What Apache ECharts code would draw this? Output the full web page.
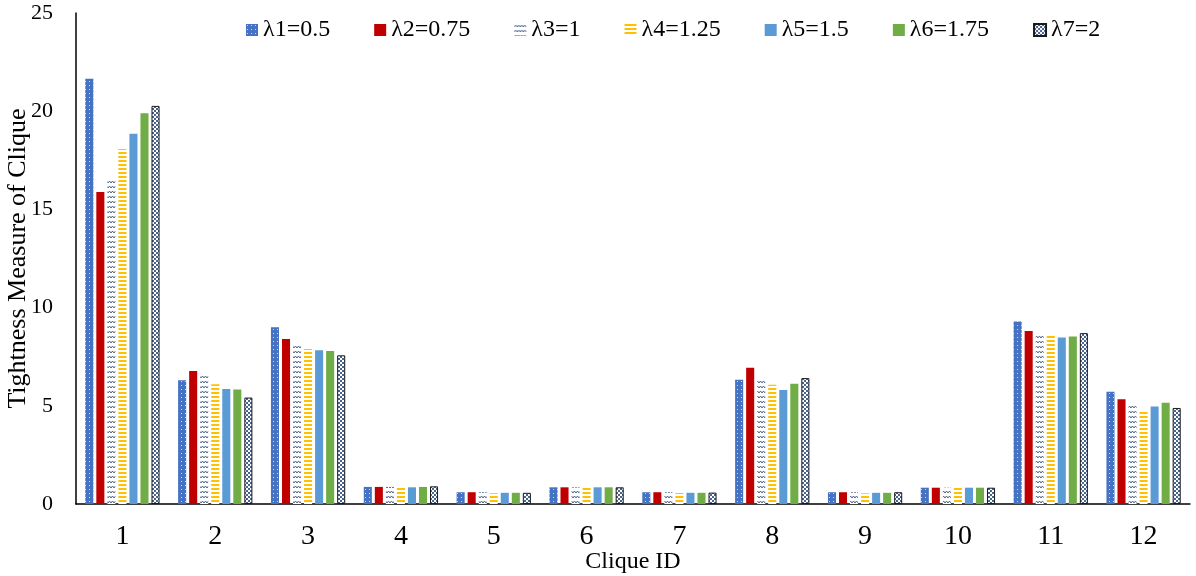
<!DOCTYPE html>
<html>
<head>
<meta charset="utf-8">
<script src="https://cdn.jsdelivr.net/npm/echarts@6/dist/echarts.min.js"></script>
<style>
  html, body { margin: 0; padding: 0; background: #fff; }
  #main { width: 1196px; height: 576px; }
</style>
</head>
<body>
<div id="main"></div>
<script>
var cliques = ['1', '2', '3', '4', '5', '6', '7', '8', '9', '10', '11', '12'];
var seriesNames = ['λ1=0.5', 'λ2=0.75', 'λ3=1', 'λ4=1.25', 'λ5=1.5', 'λ6=1.75', 'λ7=2'];

var lambda1 = [21.65, 6.3, 9.0, 0.87, 0.6, 0.85, 0.6, 6.33, 0.6, 0.83, 9.29, 5.72];
var lambda2 = [15.89, 6.77, 8.4, 0.87, 0.6, 0.85, 0.6, 6.94, 0.6, 0.83, 8.81, 5.33];
var lambda3 = [16.55, 6.64, 8.08, 0.87, 0.6, 0.85, 0.6, 6.41, 0.6, 0.83, 8.7, 4.99];
var lambda4 = [18.07, 6.1, 7.89, 0.85, 0.55, 0.85, 0.56, 6.07, 0.55, 0.83, 8.58, 4.75];
var lambda5 = [18.85, 5.86, 7.83, 0.85, 0.57, 0.85, 0.57, 5.8, 0.57, 0.83, 8.48, 4.97];
var lambda6 = [19.9, 5.83, 7.79, 0.87, 0.57, 0.85, 0.57, 6.12, 0.57, 0.83, 8.53, 5.16];
var lambda7 = [20.27, 5.42, 7.57, 0.9, 0.57, 0.85, 0.58, 6.41, 0.6, 0.83, 8.7, 4.89];

var allValues = [lambda1, lambda2, lambda3, lambda4, lambda5, lambda6, lambda7];

// small canvas tiles used as fill patterns
function tile(w, h, draw) {
  var c = document.createElement('canvas');
  c.width = w;
  c.height = h;
  draw(c.getContext('2d'));
  return { image: c, repeat: 'repeat' };
}

var dotted = tile(4, 4, function (ctx) {
  ctx.fillStyle = '#4472C4';
  ctx.fillRect(0, 0, 4, 4);
  ctx.fillStyle = 'rgba(255,255,255,0.75)';
  ctx.fillRect(1, 1, 1, 1);
});

var wave = tile(6, 5, function (ctx) {
  ctx.fillStyle = '#fff';
  ctx.fillRect(0, 0, 6, 5);
  ctx.strokeStyle = '#3A5680';
  ctx.lineWidth = 0.9;
  ctx.beginPath();
  ctx.moveTo(0, 3);
  ctx.lineTo(1.5, 1);
  ctx.lineTo(3, 3);
  ctx.lineTo(4.5, 1);
  ctx.lineTo(6, 3);
  ctx.stroke();
});

var stripes = tile(4, 4, function (ctx) {
  ctx.fillStyle = '#fff';
  ctx.fillRect(0, 0, 4, 4);
  ctx.fillStyle = '#FFC000';
  ctx.fillRect(0, 0, 4, 2);
});

var checks = tile(4, 4, function (ctx) {
  ctx.fillStyle = '#fff';
  ctx.fillRect(0, 0, 4, 4);
  ctx.fillStyle = '#4A6490';
  ctx.fillRect(0, 0, 2, 2);
  ctx.fillRect(2, 2, 2, 2);
});

var fills = [dotted, '#C00000', wave, stripes, '#5B9BD5', '#70AD47', checks];
var borders = [null, null, null, null, null, null, '#1a1a1a'];

var font = 'Liberation Serif';

var series = seriesNames.map(function (name, i) {
  return {
    name: name,
    type: 'bar',
    barGap: '37%',
    barCategoryGap: '20%',
    itemStyle: {
      color: fills[i],
      borderColor: borders[i] || 'transparent',
      borderWidth: borders[i] ? 1 : 0
    },
    data: allValues[i]
  };
});

var myChart = echarts.init(document.getElementById('main'));

var option = {
  backgroundColor: '#fff',
  animation: false,
  textStyle: { fontFamily: font, color: '#000' },
  grid: { left: 76, right: 6, top: 13, bottom: 72, containLabel: false, outerBoundsMode: 'none' },
  legend: {
    left: 241,
    top: 13,
    itemWidth: 12,
    itemHeight: 12,
    itemGap: 44,
    icon: 'rect',
    textStyle: { fontFamily: font, fontSize: 24, color: '#000' },
    data: seriesNames
  },
  xAxis: {
    type: 'category',
    data: cliques,
    name: 'Clique ID',
    nameLocation: 'middle',
    nameGap: 46,
    nameMoveOverlap: false,
    nameTextStyle: { fontFamily: font, fontSize: 24, color: '#000' },
    axisLine: { lineStyle: { color: '#000', width: 1.5 } },
    axisTick: { show: false },
    axisLabel: { fontFamily: font, fontSize: 28, color: '#000', margin: 19 }
  },
  yAxis: {
    type: 'value',
    min: 0,
    max: 25,
    interval: 5,
    name: 'Tightness Measure of Clique',
    nameLocation: 'middle',
    nameRotate: 90,
    nameGap: 45,
    nameMoveOverlap: false,
    nameTextStyle: { fontFamily: font, fontSize: 26, color: '#000' },
    axisLine: { show: true, lineStyle: { color: '#000', width: 1.5 } },
    axisTick: { show: false },
    splitLine: { show: false },
    axisLabel: { fontFamily: font, fontSize: 22, color: '#000', margin: 23 }
  },
  series: series
};
myChart.setOption(option);
</script>
</body>
</html>
